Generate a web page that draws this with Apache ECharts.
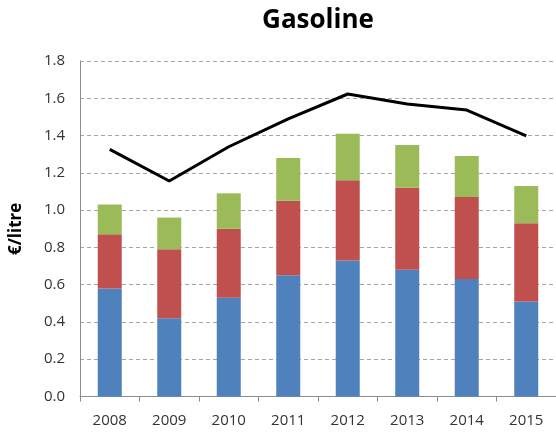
<!DOCTYPE html>
<html>
<head>
<meta charset="utf-8">
<script src="https://cdn.jsdelivr.net/npm/echarts@6/dist/echarts.min.js"></script>
<style>
html,body{margin:0;padding:0;background:#fff;}
#chart{width:556px;height:435px;}
</style>
</head>
<body>
<div id="chart"></div>
<script>
var years = ['2008','2009','2010','2011','2012','2013','2014','2015'];
var blueValues = [0.58, 0.42, 0.53, 0.65, 0.73, 0.68, 0.63, 0.51];
var redValues = [0.29, 0.37, 0.37, 0.40, 0.43, 0.44, 0.44, 0.42];
var greenValues = [0.16, 0.17, 0.19, 0.23, 0.25, 0.23, 0.22, 0.20];
var lineValues = [1.326, 1.156, 1.34, 1.49, 1.623, 1.569, 1.537, 1.398];

var chart = echarts.init(document.getElementById('chart'));
var font = '"Open Sans", "Liberation Sans", sans-serif';
chart.setOption({
  animation: false,
  graphic: [{
    type: 'text', x: 318, y: 21,
    style: {text: 'Gasoline', fill: '#000', font: 'bold 26px "Open Sans", sans-serif',
      textAlign: 'center', textVerticalAlign: 'middle'}
  }],
  grid: {left: 72, top: 61, width: 485, height: 335.5, containLabel: false},
  xAxis: {
    type: 'category',
    data: years,
    axisLine: {show: true, lineStyle: {color: '#8c8c8c', width: 1}},
    axisTick: {show: true, alignWithLabel: false, length: 5, lineStyle: {color: '#8c8c8c'}},
    axisLabel: {fontFamily: font, fontSize: 15, color: '#333', margin: 17}
  },
  yAxis: {
    type: 'value',
    min: 0, max: 1.8, interval: 0.2,
    name: '€/litre',
    nameLocation: 'middle',
    nameRotate: 90,
    nameGap: 55,
    nameTextStyle: {fontFamily: font, fontWeight: 'bold', fontSize: 17, color: '#000'},
    axisLine: {show: true, lineStyle: {color: '#8c8c8c', width: 1}},
    axisTick: {show: false},
    axisLabel: {fontFamily: font, fontSize: 15, color: '#333', margin: 15,
      formatter: function (v) { return v.toFixed(1); }},
    splitLine: {show: true, lineStyle: {color: '#a6a6a6', type: [4, 3], width: 1}}
  },
  series: [
    {type: 'bar', stack: 'p', data: blueValues, barWidth: 24, itemStyle: {color: '#4F81BD'}},
    {type: 'bar', stack: 'p', data: redValues, barWidth: 24, itemStyle: {color: '#C0504D'}},
    {type: 'bar', stack: 'p', data: greenValues, barWidth: 24, itemStyle: {color: '#9BBB59'}},
    {type: 'line', data: lineValues, showSymbol: false, symbol: 'none',
      lineStyle: {color: '#000', width: 3}, z: 5}
  ]
});
</script>
</body>
</html>
